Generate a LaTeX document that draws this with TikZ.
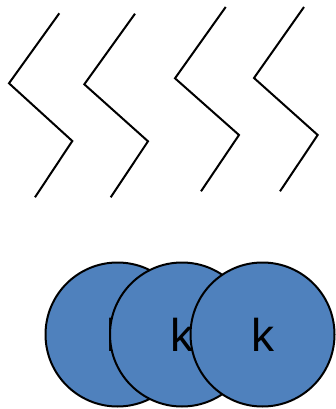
\documentclass[tikz,border=0pt]{standalone}
\usepackage{fontspec}
\setmainfont{Liberation Sans}
\usetikzlibrary{positioning}
\definecolor{ballBlue}{HTML}{4F81BD}

\begin{document}
\begin{tikzpicture}[x=1pt, y=-1pt,
      zig/.style={draw, line width=2pt, line join=miter},
      ball/.style={circle, draw, fill=ballBlue, line width=2pt,
        minimum size=144pt, inner sep=0pt,
        font=\fontsize{46}{46}\selectfont}]
    \useasboundingbox (0,0) rectangle (335,409);
    % zigzags: top / left / right / bottom corners
    \foreach \n/\ax/\ay/\bx/\by/\cx/\cy/\dx/\dy in {
        1/59.3/13.3/9/83.3/72.3/141/35/197.3,
        2/135/13.7/84.3/84.3/148/141.3/110.7/197.3,
        3/225.7/7/175/78.3/239/135/201/191.3,
        4/304/7/254/78/317.7/135/280/191.3} {
      \coordinate (z\n a) at (\ax,\ay);
      \coordinate (z\n b) at (\bx,\by);
      \coordinate (z\n c) at (\cx,\cy);
      \coordinate (z\n d) at (\dx,\dy);
      \draw[zig] (z\n a) -- (z\n b) -- (z\n c) -- (z\n d);
    }
    % balls, later ones on top
    \foreach \n/\x in {1/117.5, 2/182, 3/262.5}
      \node[ball] (ball\n) at (\x,334.5) {k};
  \end{tikzpicture}
\end{document}
